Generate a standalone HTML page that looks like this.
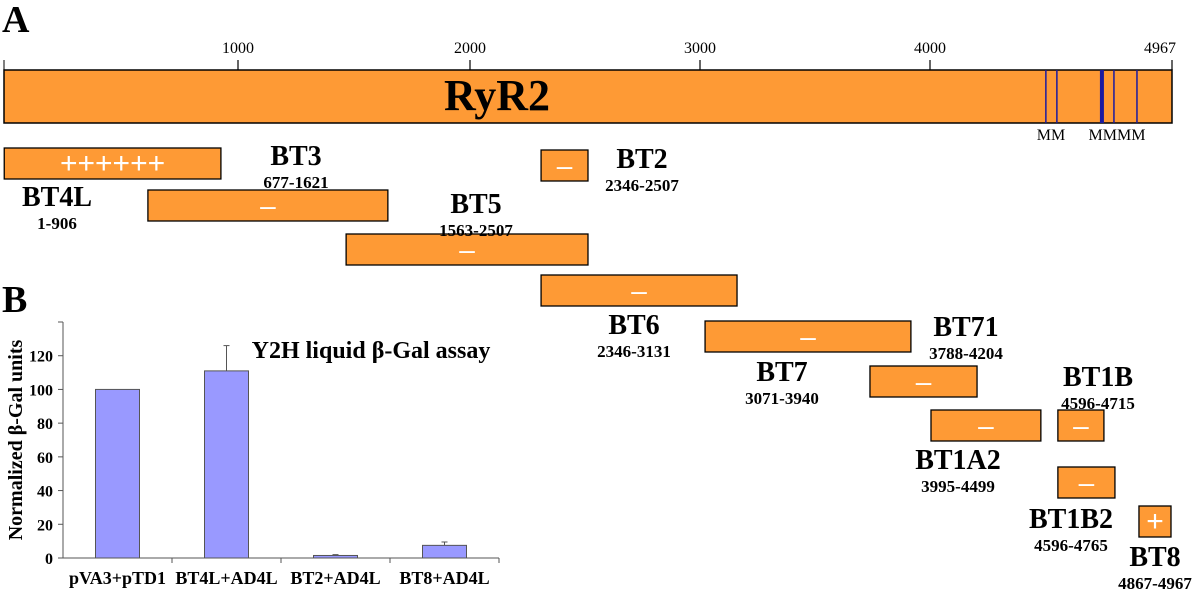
<!DOCTYPE html>
<html><head><meta charset="utf-8"><style>
html,body{margin:0;padding:0;background:#fff;width:1200px;height:591px;overflow:hidden}
svg{display:block;font-family:"Liberation Serif",serif}
</style></head><body>
<svg id="s" width="1200" height="591" viewBox="0 0 1200 591">
<text x="2" y="32" font-size="38" font-weight="bold">A</text>
<text x="2" y="312" font-size="38" font-weight="bold">B</text>
</svg>
<script>
const NS='http://www.w3.org/2000/svg';
const svg=document.getElementById('s');
function el(tag,attrs,parent){const e=document.createElementNS(NS,tag);for(const k in attrs)e.setAttribute(k,attrs[k]);(parent||svg).appendChild(e);return e;}
const ORANGE='#fe9a35';
// ---- Panel A data ----
const rulerTicks=[1000,2000,3000,4000,4967];
const markers=[4463,4507,4687,4735,4827];
const markerWidths=[1.5,1.5,4,1.5,1.5];
const fragNames=['BT4L','BT3','BT5','BT2','BT6','BT7','BT71','BT1A2','BT1B','BT1B2','BT8'];
const fragStart=[1,615,1466,2309,2309,3022,3739,4004,4511,4511,4835];
const fragEnd=[927,1646,2513,2513,3161,3917,4188,4443,4695,4739,4963];
const fragRanges=['1-906','677-1621','1563-2507','2346-2507','2346-3131','3071-3940','3788-4204','3995-4499','4596-4715','4596-4765','4867-4967'];
const fragResult=['++++++','–','–','–','–','–','–','–','–','–','+'];
const fragRow=[0,1,2,0,3,4,5,6,6,7,8];
const rowTop=[148,190,234,150,275,321,366,410,467,506];
const rowFix=[0,1,2,3,4,5,6,7,7,8,9];
const labelX=[57,296,476,642,634,782,966,958,1098,1071,1155];
const labelY=[206,165,213,168,334,381,336,469,386,528,566];
// piecewise axis (the printed ruler is not uniformly spaced)
const domainAnchors=[0,1000,2000,3000,4000,4967];
const pixelAnchors=[4,238,470,700,930,1172];
function sx(n){
  for(let i=1;i<domainAnchors.length;i++){
    if(n<=domainAnchors[i]||i===domainAnchors.length-1){
      const a=domainAnchors[i-1],b=domainAnchors[i];
      return pixelAnchors[i-1]+(n-a)/(b-a)*(pixelAnchors[i]-pixelAnchors[i-1]);
    }
  }
}
const ruler=el('rect',{x:sx(0),y:70,width:sx(4967)-sx(0),height:53,fill:ORANGE,stroke:'#000','stroke-width':1.5});


el('line',{x1:4,y1:60,x2:4,y2:70,stroke:'#000'});
rulerTicks.forEach(t=>{
  const x=sx(t);
  const l=el('line',{x1:x,y1:60,x2:x,y2:70,stroke:'#000','stroke-width':1.2});
  
  
  const tx=el('text',{x:t===4967?x-12:x,y:53,'font-size':16,'text-anchor':'middle'});
  tx.textContent=t;
  
  
});
markers.forEach((m,i)=>{
  const l=el('line',{x1:sx(m),y1:70,x2:sx(m),y2:123,stroke:'#1a1aa0','stroke-width':markerWidths[i]});
  
  
});
const rt=el('text',{x:497,y:110,'font-size':44,'font-weight':'bold','text-anchor':'middle'});rt.textContent='RyR2';

const mm1=el('text',{x:1051,y:140,'font-size':16,'text-anchor':'middle'});mm1.textContent='MM';

const mm2=el('text',{x:1117,y:140,'font-size':16,'text-anchor':'middle'});mm2.textContent='MMMM';

fragNames.forEach((n,i)=>{
  const x0=sx(fragStart[i]),x1=sx(fragEnd[i]),y=rowTop[rowFix[i]];
  const r=el('rect',{x:x0,y:y,width:x1-x0,height:31,fill:ORANGE,stroke:'#000','stroke-width':1.3});
  
  
  const res=el('text',{x:(x0+x1)/2,y:y+25,'font-size':fragResult[i]==='–'?28:30,'fill':'#fff','text-anchor':'middle','font-family':'Liberation Sans, sans-serif'});
  res.textContent=fragResult[i];
  
  
  const t=el('text',{x:labelX[i],y:labelY[i],'font-size':28,'font-weight':'bold','text-anchor':'middle'});t.textContent=n;
  
  const t2=el('text',{x:labelX[i],y:labelY[i]+23,'font-size':17,'font-weight':'bold','text-anchor':'middle'});t2.textContent=fragRanges[i];
  
});
// ---- Panel B chart ----
const categories=['pVA3+pTD1','BT4L+AD4L','BT2+AD4L','BT8+AD4L'];
const values=[100,111,1.5,7.5];
const errors=[0,15,0.5,2];
const yTicks=[0,20,40,60,80,100,120];
const X0=63,X1=499,Y0=558,yMax=140,Ytop=322;
const sy=v=>Y0-v*(Y0-Ytop)/yMax;
const bw=(X1-X0)/categories.length;
el('line',{x1:X0,y1:Ytop,x2:X0,y2:Y0,stroke:'#555'});
el('line',{x1:X0,y1:Y0,x2:X1,y2:Y0,stroke:'#555'});
yTicks.forEach(v=>{
  el('line',{x1:X0-5,y1:sy(v),x2:X0,y2:sy(v),stroke:'#555'});
  const t=el('text',{x:X0-10,y:sy(v)+6,'font-size':16,'font-weight':'bold','text-anchor':'end'});t.textContent=v;
  
});
el('line',{x1:X0-5,y1:Ytop,x2:X0,y2:Ytop,stroke:'#555'});
categories.forEach((c,i)=>{
  const cx=X0+bw*(i+0.5);
  el('line',{x1:X0+bw*(i+1),y1:Y0,x2:X0+bw*(i+1),y2:Y0+5,stroke:'#555'});
  const b=el('rect',{x:cx-22,y:sy(values[i]),width:44,height:Y0-sy(values[i]),fill:'#9999ff',stroke:'#555','stroke-width':1});
  
  
  if(errors[i]>0){
    el('line',{x1:cx,y1:sy(values[i]),x2:cx,y2:sy(values[i]+errors[i]),stroke:'#555'});
    el('line',{x1:cx-3,y1:sy(values[i]+errors[i]),x2:cx+3,y2:sy(values[i]+errors[i]),stroke:'#555'});
  }
  const t=el('text',{x:cx,y:584,'font-size':18,'font-weight':'bold','text-anchor':'middle'});t.textContent=c;
  
});
const yt=el('text',{x:0,y:0,'font-size':20,'font-weight':'bold','text-anchor':'middle',transform:'translate(22,440) rotate(-90)'});
yt.textContent='Normalized β-Gal units';

const ct=el('text',{x:371,y:358,'font-size':24,'font-weight':'bold','text-anchor':'middle'});
ct.textContent='Y2H liquid β-Gal assay';

</script>
</body></html>
